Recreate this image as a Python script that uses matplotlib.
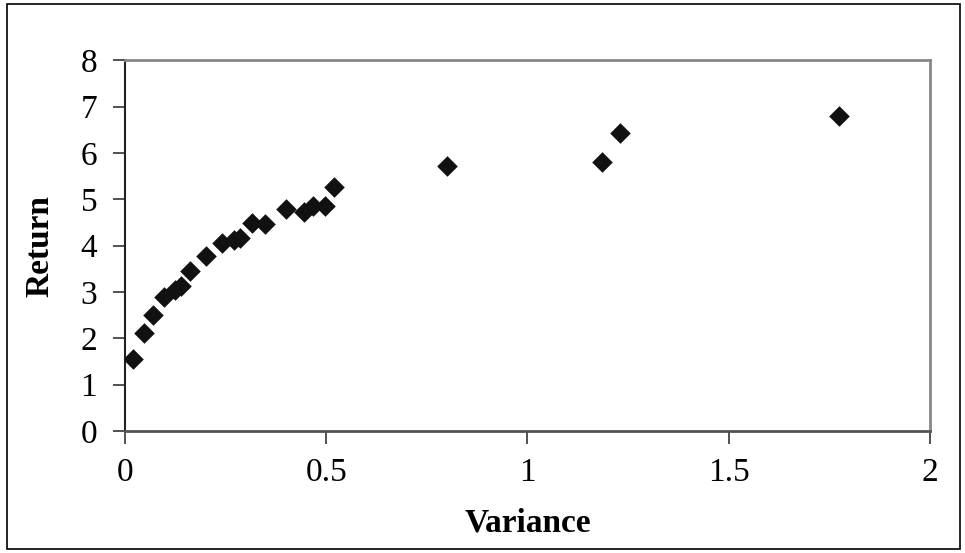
import matplotlib.pyplot as plt
from matplotlib.patches import Rectangle

# Datos (varianza vs. rendimiento)
variance = [0.019, 0.048, 0.069, 0.096, 0.124, 0.139, 0.162, 0.201, 0.240,
            0.272, 0.287, 0.315, 0.347, 0.399, 0.446, 0.467, 0.496, 0.519,
            0.800, 1.184, 1.230, 1.773]
ret = [1.55, 2.12, 2.51, 2.89, 3.04, 3.12, 3.45, 3.77, 4.06,
       4.12, 4.17, 4.49, 4.46, 4.78, 4.72, 4.85, 4.85, 5.26,
       5.72, 5.80, 6.42, 6.80]

x_ticks = [0, 0.5, 1, 1.5, 2]
x_tick_labels = ['0', '0.5', '1', '1.5', '2']
y_ticks = list(range(0, 9))

plt.rcParams['font.family'] = ['Liberation Serif', 'DejaVu Serif']

fig = plt.figure(figsize=(9.65, 5.53), dpi=100)
ax = fig.add_axes([0.1295, 0.2206, 0.8342, 0.6704])

ax.scatter(variance, ret, marker='D', s=110, color='#111111', zorder=3, linewidths=0)

ax.set_xlim(0, 2)
ax.set_ylim(0, 8)
ax.set_xticks(x_ticks)
ax.set_xticklabels(x_tick_labels)
ax.set_yticks(y_ticks)
ax.tick_params(axis='both', labelsize=24, length=9, width=1.2, direction='out', color='#333333')
ax.tick_params(axis='x', pad=10)
ax.tick_params(axis='y', pad=11)

# Bordes del area del grafico
for s in ['top', 'right']:
    ax.spines[s].set_color('#888888')
    ax.spines[s].set_linewidth(2)
ax.spines['bottom'].set_color('#555555')
ax.spines['bottom'].set_linewidth(2)
ax.spines['left'].set_color('#222222')
ax.spines['left'].set_linewidth(1.5)

ax.set_xlabel('Variance', fontsize=24, fontweight='bold', labelpad=14)
ax.set_ylabel('Return', fontsize=24, fontweight='bold', labelpad=18)

# Marco exterior de la figura
fig.patches.append(Rectangle((0.007, 0.008), 0.988, 0.984, transform=fig.transFigure,
                             fill=False, edgecolor='black', linewidth=1.2))

fig.savefig('out.png', dpi=100)
